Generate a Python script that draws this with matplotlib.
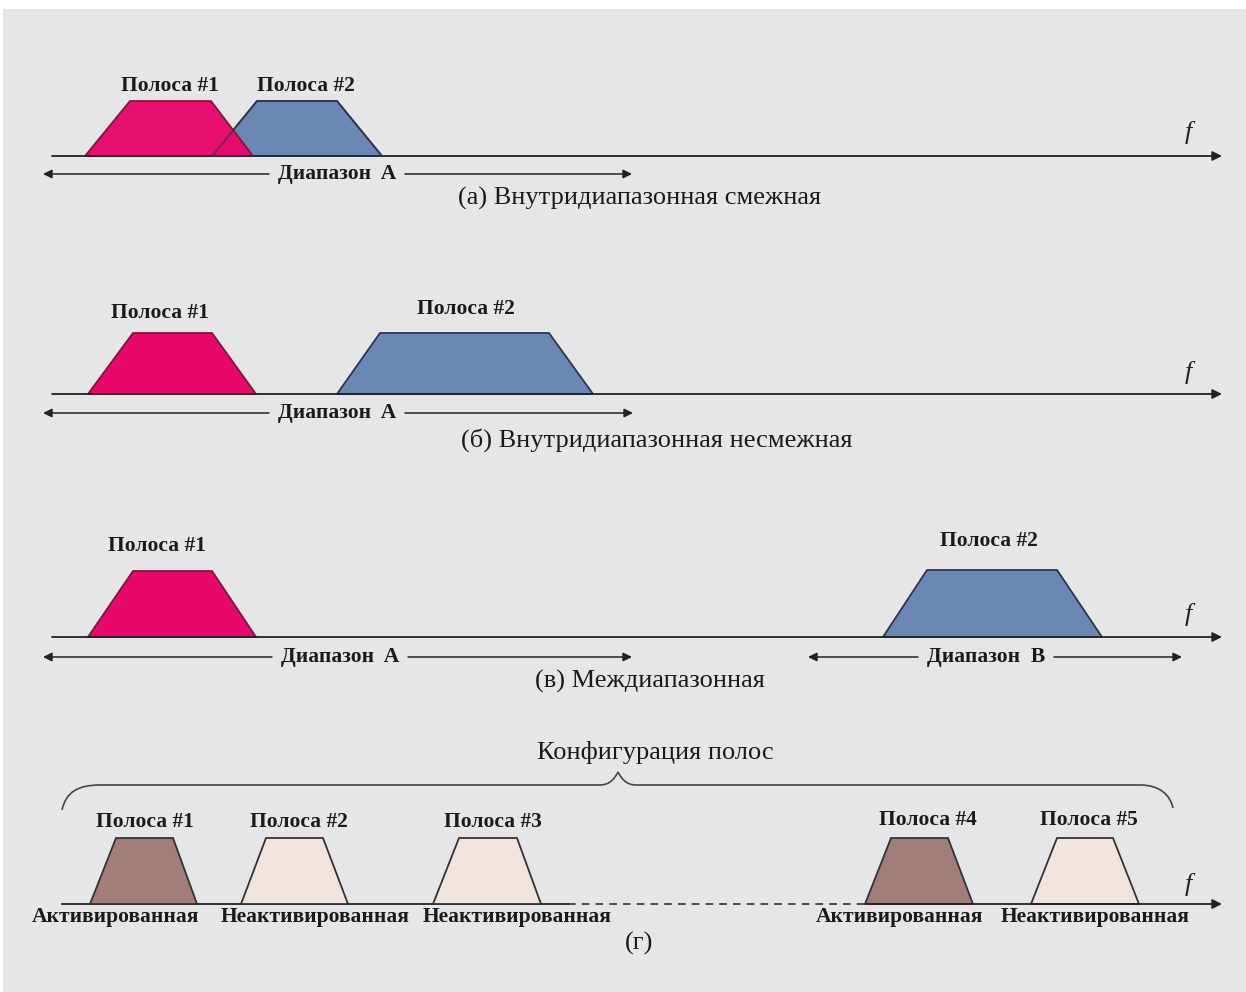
import matplotlib
matplotlib.use('Agg')
import matplotlib.pyplot as plt
from matplotlib.patches import Polygon, PathPatch, Rectangle
from matplotlib.path import Path

SERIF = ['Liberation Serif', 'DejaVu Serif']

# band shapes along the frequency axis (pixel units): base_lo, top_lo, top_hi, base_hi
bands_a = [(85, 130, 211, 253), (212, 257, 337, 382)]
bands_b = [(88, 133, 212, 256), (337, 380, 549, 593)]
bands_c = [(88, 133, 212, 256), (883, 927, 1057, 1102)]
bands_g = [(90, 116, 173, 197), (241, 266, 323, 348), (433, 459, 517, 541),
           (865, 891, 948, 973), (1031, 1057, 1113, 1139)]

labels_ab = ['Полоса #1', 'Полоса #2']
labels_g = ['Полоса #1', 'Полоса #2', 'Полоса #3', 'Полоса #4', 'Полоса #5']
label_x_a = [170, 306]
label_x_b = [160, 466]
label_x_c = [157, 989]
label_x_g = [145, 299, 493, 928, 1089]

state_g = ['Активированная', 'Неактивированная', 'Неактивированная',
           'Активированная', 'Неактивированная']
state_x = [116, 315, 517, 900, 1095]
active_g = [True, False, False, True, False]

captions = ['(а) Внутридиапазонная смежная', '(б) Внутридиапазонная несмежная',
            '(в) Междиапазонная', '(г)']

PINK, PINK_EDGE = '#E8086B', '#7A1838'
BLUE, BLUE_EDGE = '#6B88B5', '#2B3550'
DARK, LIGHT = '#A17F78', '#F1E4DE'
BG = '#E6E6E8'
INK = '#1a1a1a'

fig = plt.figure(figsize=(12.46, 9.92), dpi=100)
ax = fig.add_axes([0, 0, 1, 1])
ax.set_xlim(0, 1246)
ax.set_ylim(992, 0)
ax.axis('off')
ax.add_patch(Rectangle((3, 9), 1243, 983, facecolor=BG, edgecolor='none', zorder=0))


def trapezoid(b, y_axis, y_top, fc, ec, alpha=1.0, z=2, fill=True):
    lo, tlo, thi, hi = b
    ax.add_patch(Polygon([(lo, y_axis), (tlo, y_top), (thi, y_top), (hi, y_axis)],
                         closed=True, facecolor=fc if fill else 'none', edgecolor=ec,
                         lw=1.3, alpha=alpha, zorder=z))


def freq_axis(y, x0=52, x1=1222, f_y=None):
    ax.annotate('', xy=(x1, y), xytext=(x0, y),
                arrowprops=dict(arrowstyle='-|>', color='#222222', lw=1.3,
                                mutation_scale=14, shrinkA=0, shrinkB=0), zorder=3)
    ax.text(1188, f_y, 'f', family=SERIF, style='italic',
            fontsize=19, ha='center', va='center', color='#222222')


def range_arrow(y, x0, xc, x1, name, half=68):
    kw = dict(arrowstyle='-|>', color='#222222', lw=1.1, mutation_scale=13,
              shrinkA=0, shrinkB=0)
    ax.annotate('', xy=(x0, y), xytext=(xc - half, y), arrowprops=kw)
    ax.annotate('', xy=(x1, y), xytext=(xc + half, y), arrowprops=kw)
    ax.text(xc, y, name, family=SERIF, weight='bold', fontsize=15.5, ha='center',
            va='center', color=INK)


def band_label(x, y, s):
    ax.text(x, y, s, family=SERIF, weight='bold', fontsize=15.5, ha='center',
            va='center', color=INK)


def caption(x, y, s, size=19):
    ax.text(x, y, s, family=SERIF, fontsize=size, ha='center', va='center',
            color=INK)


# (а) contiguous: band 1 overlaps band 2
trapezoid(bands_a[1], 156, 101, BLUE, BLUE_EDGE, z=2)
trapezoid(bands_a[0], 156, 101, PINK, PINK_EDGE, alpha=0.97, z=3)
trapezoid(bands_a[1], 156, 101, BLUE, BLUE_EDGE, alpha=0.6, z=4, fill=False)
for x, s in zip(label_x_a, labels_ab):
    band_label(x, 86, s)
freq_axis(156, f_y=133)
range_arrow(174, 43, 337, 632, 'Диапазон  A')
caption(640, 198, captions[0])

# (б) non-contiguous
trapezoid(bands_b[0], 394, 333, PINK, PINK_EDGE)
trapezoid(bands_b[1], 394, 333, BLUE, BLUE_EDGE)
label_y_b = [313, 309]
for x, y, s in zip(label_x_b, label_y_b, labels_ab):
    band_label(x, y, s)
freq_axis(394, f_y=372)
range_arrow(413, 43, 337, 633, 'Диапазон  A')
caption(657, 440, captions[1])

# (в) inter-band
trapezoid(bands_c[0], 637, 571, PINK, PINK_EDGE)
trapezoid(bands_c[1], 637, 570, BLUE, BLUE_EDGE)
label_y_c = [546, 541]
for x, y, s in zip(label_x_c, label_y_c, labels_ab):
    band_label(x, y, s)
freq_axis(637, f_y=615)
range_arrow(657, 43, 340, 632, 'Диапазон  A')
range_arrow(657, 808, 986, 1182, 'Диапазон  B')
caption(650, 681, captions[2])

# (г) band configuration
y_g = 904
ax.plot([62, 568], [y_g, y_g], color='#222222', lw=1.3, zorder=1)
ax.plot([568, 866], [y_g, y_g], color='#222222', lw=1.1, ls=(0, (5, 4)), zorder=1)
freq_axis(y_g, x0=866, f_y=884)
for b, act in zip(bands_g, active_g):
    trapezoid(b, y_g, 838, DARK if act else LIGHT, '#333333')
for i, (x, s) in enumerate(zip(label_x_g, labels_g)):
    band_label(x, 822 if i < 3 else 820, s)
for x, s in zip(state_x, state_g):
    band_label(x, 917, s)
caption(639, 943, captions[3])

# brace over the configuration
verts = [(62, 810), (66, 792), (78, 785), (100, 785),
         (600, 785),
         (610, 785), (615, 778), (618, 772),
         (621, 778), (626, 785), (636, 785),
         (1140, 785),
         (1160, 785), (1170, 795), (1173, 808)]
codes = [Path.MOVETO, Path.CURVE4, Path.CURVE4, Path.CURVE4,
         Path.LINETO,
         Path.CURVE4, Path.CURVE4, Path.CURVE4,
         Path.CURVE4, Path.CURVE4, Path.CURVE4,
         Path.LINETO,
         Path.CURVE4, Path.CURVE4, Path.CURVE4]
ax.add_patch(PathPatch(Path(verts, codes), facecolor='none', edgecolor='#444444', lw=1.2))
caption(655, 752, 'Конфигурация полос')

fig.savefig('out.png', dpi=100, facecolor='white')
